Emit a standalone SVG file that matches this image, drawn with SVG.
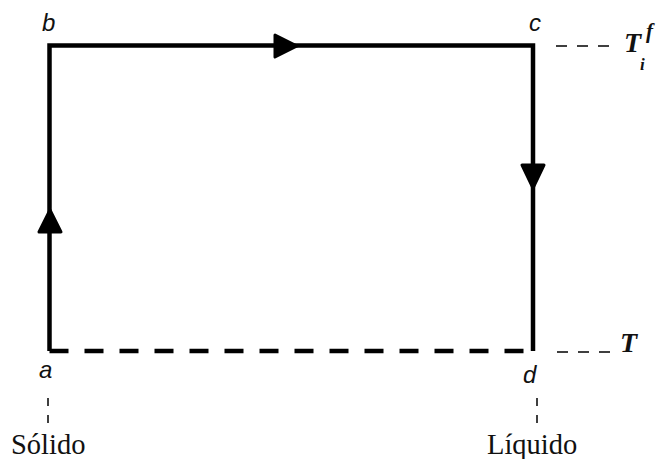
<svg xmlns="http://www.w3.org/2000/svg" width="663" height="459" viewBox="0 0 663 459">
<style>
.edge{stroke:#000;stroke-width:4.5;fill:none}
.thin{stroke:#000;stroke-width:1.5;fill:none}
.arr{fill:#000;stroke:#000;stroke-width:3;stroke-linejoin:round}
.lbl{font-family:"Liberation Sans",Arial,sans-serif;font-style:italic;font-size:24px;fill:#111}
.tt{font-family:"Liberation Serif","Times New Roman",serif;font-style:italic;font-weight:bold;fill:#111}
.ph{font-family:"Liberation Serif","Times New Roman",serif;font-size:28.5px;fill:#111}
</style>
<rect width="663" height="459" fill="#fff"/>
<g id="connectors">
<path class="edge" d="M49.5 351 V45.5 H533 V351" stroke-linejoin="miter"/>
<path class="edge" d="M49.5 351 H533" stroke-dasharray="19 16"/>
<path class="thin" d="M556 46 H610" stroke-dasharray="11 10"/>
<path class="thin" d="M557 352 H610" stroke-dasharray="11 10"/>
<path class="thin" d="M48 398 V428" stroke-dasharray="8 9"/>
<path class="thin" d="M537 398 V430" stroke-dasharray="8 9"/>
<path class="arr" d="M275 35 L297 46 L275 57 Z"/>
<path class="arr" d="M50 210 L61 232 L39 232 Z"/>
<path class="arr" d="M522 165 L544 165 L533 188 Z"/>
</g>
<g id="node-b"><text class="lbl" x="42" y="31">b</text></g>
<g id="node-c"><text class="lbl" x="529" y="31">c</text></g>
<g id="node-a"><text class="lbl" x="39" y="378">a</text></g>
<g id="node-d"><text class="lbl" x="523" y="383">d</text></g>
<g id="label-Tif"><text class="tt" x="624" y="52" font-size="28">T</text><text class="tt" x="646" y="38" font-size="21">f</text><text class="tt" x="640" y="70" font-size="17">i</text></g>
<g id="label-T"><text class="tt" x="620" y="352" font-size="28">T</text></g>
<g id="solido"><text class="ph" x="11" y="454">Sólido</text></g>
<g id="liquido"><text class="ph" x="487" y="454">Líquido</text></g>
</svg>
